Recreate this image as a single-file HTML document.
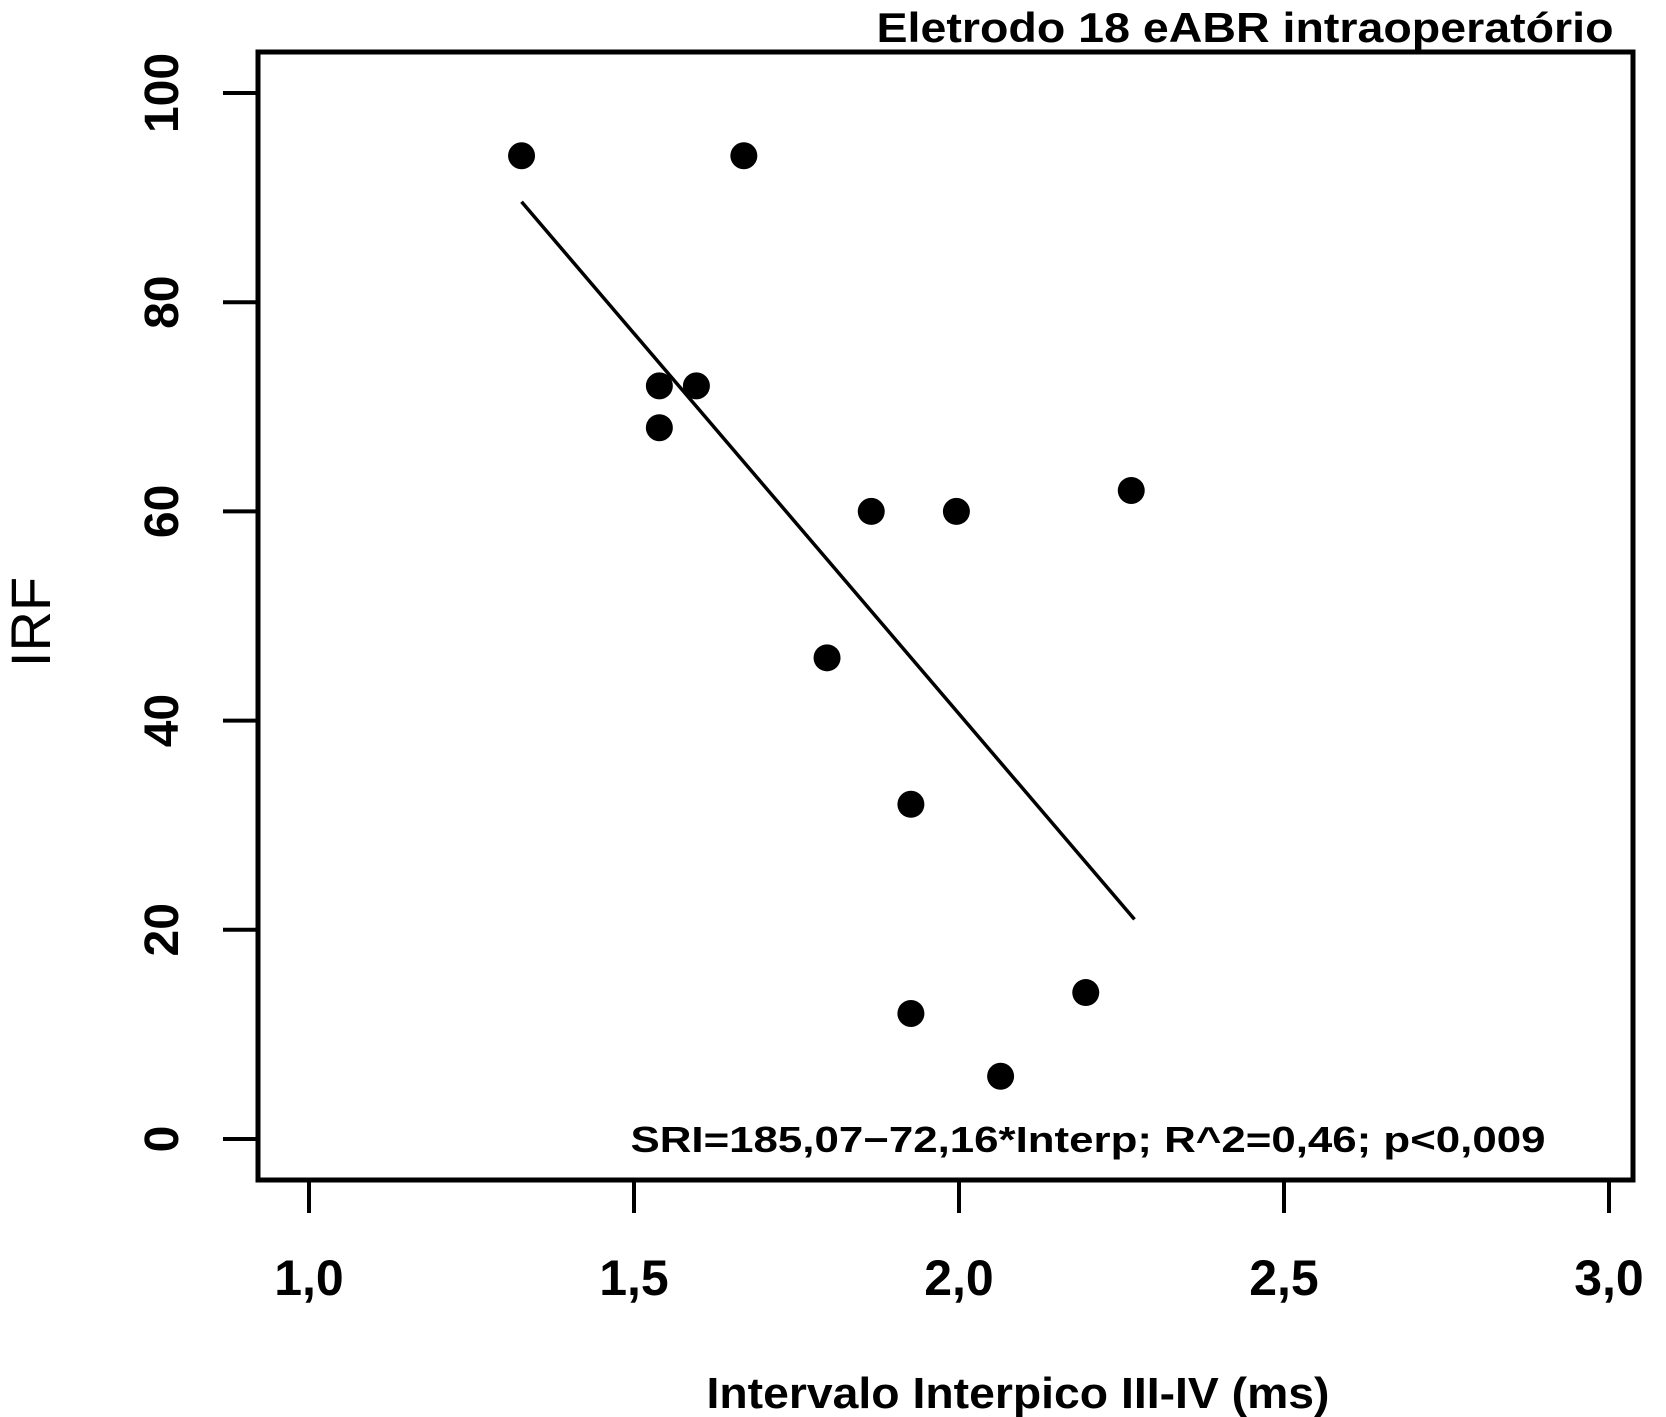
<!DOCTYPE html>
<html><head><meta charset="utf-8"><style>
html,body{margin:0;padding:0;background:#fff;}
svg{display:block;font-family:"Liberation Sans",sans-serif;}
</style></head><body>
<svg id="chart" width="1666" height="1417" viewBox="0 0 1666 1417">
<text x="1245" y="42" text-anchor="middle" font-size="42" font-weight="bold" textLength="737" lengthAdjust="spacingAndGlyphs">Eletrodo 18 eABR intraoperatório</text>
<rect x="258" y="52" width="1375" height="1128" fill="none" stroke="#000" stroke-width="5"/>
<g id="axes"></g>
<g id="marks"></g>
<text x="1088" y="1152" text-anchor="middle" font-size="36" font-weight="bold" textLength="915" lengthAdjust="spacingAndGlyphs">SRI=185,07−72,16*Interp; R^2=0,46; p&lt;0,009</text>
<text x="1018" y="1408" text-anchor="middle" font-size="44" font-weight="bold" textLength="623" lengthAdjust="spacingAndGlyphs">Intervalo Interpico III-IV (ms)</text>
<text transform="translate(50,622) rotate(-90)" text-anchor="middle" font-size="56">IRF</text>
</svg>
<script>
const xValues = [1.327,1.669,1.539,1.596,1.539,1.865,1.996,2.265,1.797,1.926,1.926,2.195,2.064];
const yValues = [94,94,72,72,68,60,60,62,46,32,12,14,6];
const fitLine = [[1.327,89.6],[2.27,21.0]];
const xTicks = [1.0,1.5,2.0,2.5,3.0];
const xTickLabels = ["1,0","1,5","2,0","2,5","3,0"];
const yTicks = [0,20,40,60,80,100];
const yTickLabels = ["0","20","40","60","80","100"];

const NS="http://www.w3.org/2000/svg";
function sx(v){return 309+(v-1)*650;}
function sy(v){return 1139-v*10.46;}
function mk(tag,attrs,parent){const e=document.createElementNS(NS,tag);for(const k in attrs)e.setAttribute(k,attrs[k]);parent.appendChild(e);return e;}
const axes=document.getElementById('axes');
const marks=document.getElementById('marks');
xTicks.forEach((t,i)=>{
  const l=mk('line',{x1:sx(t),x2:sx(t),y1:1180,y2:1213,stroke:'#000','stroke-width':4},axes);
  
  
  const tx=mk('text',{x:sx(t),y:1295,'text-anchor':'middle','font-size':50,'font-weight':'bold'},axes);
  tx.textContent=xTickLabels[i];
  
  
});
yTicks.forEach((t,i)=>{
  const l=mk('line',{x1:223,x2:258,y1:sy(t),y2:sy(t),stroke:'#000','stroke-width':4},axes);
  
  
  const tx=mk('text',{transform:'translate(178,'+sy(t)+') rotate(-90)','text-anchor':'middle','font-size':48,'font-weight':'bold'},axes);
  tx.textContent=yTickLabels[i];
  
  
});
const ln=mk('line',{x1:sx(fitLine[0][0]),y1:sy(fitLine[0][1]),x2:sx(fitLine[1][0]),y2:sy(fitLine[1][1]),stroke:'#000','stroke-width':3.5},marks);


xValues.forEach((x,i)=>{
  const c=mk('circle',{cx:sx(x),cy:sy(yValues[i]),r:13.5,fill:'#000'},marks);
  
  
});
</script>
</body></html>
